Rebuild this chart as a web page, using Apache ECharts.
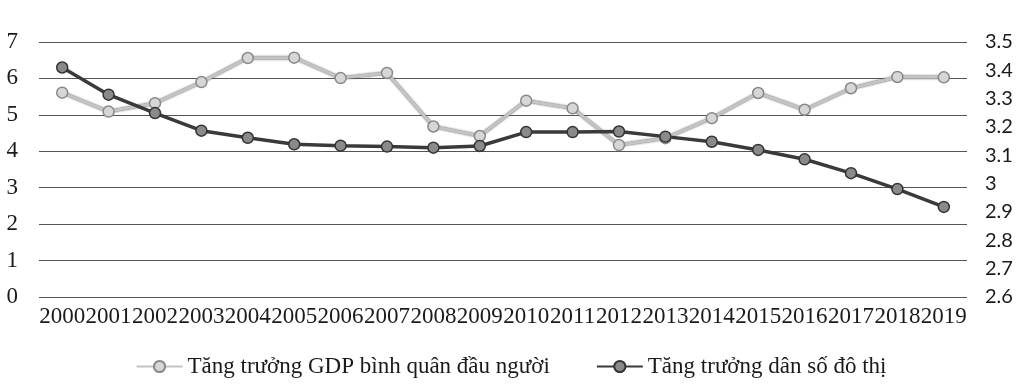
<!DOCTYPE html>
<html>
<head>
<meta charset="utf-8">
<script src="https://cdn.jsdelivr.net/npm/echarts@6/dist/echarts.min.js"></script>
<style>html,body{margin:0;padding:0;background:#fff}#c{width:1022px;height:386px}</style>
</head>
<body>
<div id="c"></div>
<script>
const years = ['2000','2001','2002','2003','2004','2005','2006','2007','2008','2009','2010','2011','2012','2013','2014','2015','2016','2017','2018','2019'];
const gdpGrowth = [5.61, 5.09, 5.32, 5.90, 6.56, 6.57, 6.01, 6.15, 4.68, 4.42, 5.39, 5.18, 4.17, 4.36, 4.91, 5.60, 5.14, 5.73, 6.04, 6.03];
const urbanGrowth = [3.41, 3.314, 3.249, 3.187, 3.162, 3.139, 3.134, 3.131, 3.127, 3.133, 3.182, 3.182, 3.184, 3.166, 3.148, 3.119, 3.086, 3.037, 2.981, 2.918];
const seriesNames = ['Tăng trưởng GDP bình quân đầu người', 'Tăng trưởng dân số đô thị'];

const chart = echarts.init(document.getElementById('c'));
chart.setOption({
  animation: false,
  backgroundColor: '#fff',
  grid: { left: 39, right: 55, top: 42, bottom: 89 },
  legend: {
    bottom: 3,
    left: 'center',
    itemWidth: 46,
    itemHeight: 14,
    itemGap: 46,
    textStyle: { fontFamily: 'Liberation Serif', fontSize: 23, color: '#1a1a1a' },
    data: seriesNames
  },
  xAxis: {
    type: 'category',
    data: years,
    boundaryGap: true,
    axisLine: { show: false },
    axisTick: { show: false },
    axisLabel: { interval: 0, margin: 8, fontFamily: 'Liberation Serif', fontSize: 23, color: '#1a1a1a' }
  },
  yAxis: [
    {
      type: 'value', min: 0, max: 7, interval: 1,
      axisLine: { show: false }, axisTick: { show: false },
      axisLabel: { margin: 21, fontFamily: 'Liberation Serif', fontSize: 23, color: '#1a1a1a' },
      splitLine: { lineStyle: { color: '#555', width: 1 } }
    },
    {
      type: 'value', min: 2.6, max: 3.5, interval: 0.1,
      axisLine: { show: false }, axisTick: { show: false },
      axisLabel: { margin: 18, fontFamily: 'Lato', fontSize: 20, color: '#1a1a1a',
        formatter: v => (Math.round(v * 10) / 10).toString() },
      splitLine: { show: false }
    }
  ],
  series: [
    {
      name: seriesNames[0], type: 'line', yAxisIndex: 0, data: gdpGrowth,
      symbol: 'circle', symbolSize: 11,
      lineStyle: { color: '#c4c4c4', width: 3, shadowColor: '#555', shadowBlur: 2 },
      itemStyle: { color: '#d6d6d6', borderColor: '#888', borderWidth: 1.5 }
    },
    {
      name: seriesNames[1], type: 'line', yAxisIndex: 1, data: urbanGrowth,
      symbol: 'circle', symbolSize: 11,
      lineStyle: { color: '#3a3a3a', width: 3.5 },
      itemStyle: { color: '#8a8a8a', borderColor: '#333', borderWidth: 1.5 }
    }
  ]
});
</script>
</body>
</html>
